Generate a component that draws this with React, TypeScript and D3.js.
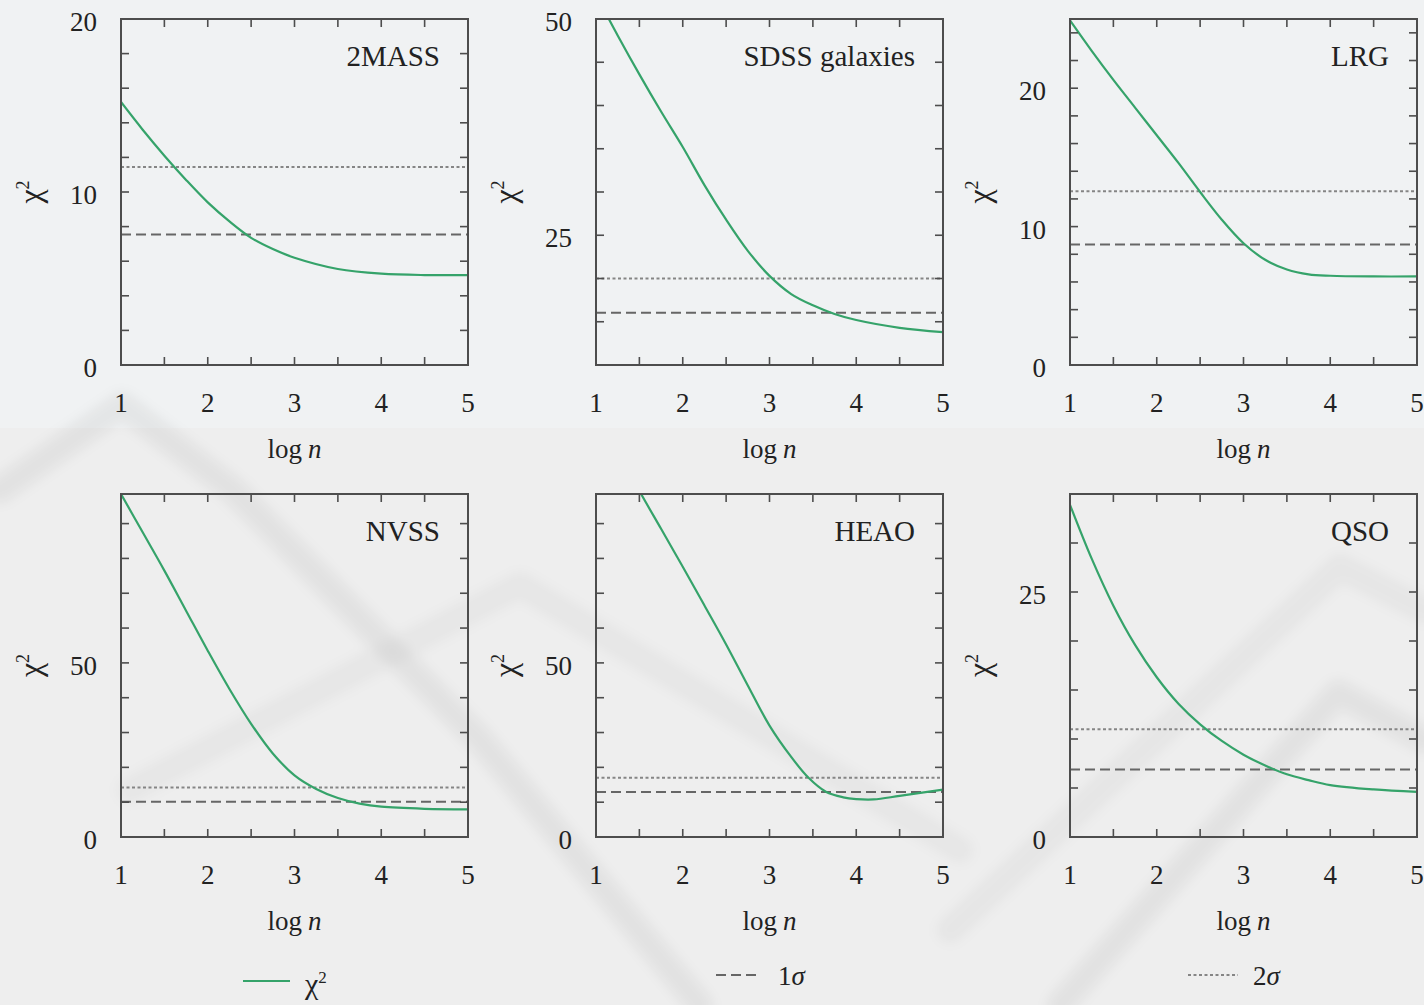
import React from "react";
import * as d3 from "d3";

// Canvas
const W = 1424;
const H = 1005;

// Panel titles (one per survey)
const panelNames = ["2MASS", "SDSS galaxies", "LRG", "NVSS", "HEAO", "QSO"];

// chi^2 as a function of log n for each survey
const chi2MASS: [number, number][] = [
  [1, 15.2], [1.25, 13.6], [1.5, 12.1], [1.75, 10.7], [2, 9.4], [2.25, 8.3],
  [2.5, 7.35], [2.75, 6.7], [3, 6.2], [3.5, 5.55], [4, 5.28], [4.5, 5.2], [5, 5.2],
];
const chiSDSS: [number, number][] = [
  [1, 52.8], [1.25, 48.1], [1.5, 43.6], [1.75, 39.3], [2, 35.2], [2.25, 30.8],
  [2.5, 26.8], [2.75, 23.2], [3, 20.3], [3.25, 18.2], [3.5, 16.9], [3.75, 15.9],
  [4, 15.2], [4.5, 14.3], [5, 13.8],
];
const chiLRG: [number, number][] = [
  [1, 24.9], [1.25, 22.7], [1.5, 20.6], [1.75, 18.6], [2, 16.6], [2.25, 14.6],
  [2.5, 12.5], [2.75, 10.5], [3, 8.8], [3.25, 7.6], [3.5, 6.9], [3.75, 6.55],
  [4, 6.45], [4.5, 6.4], [5, 6.4],
];
const chiNVSS: [number, number][] = [
  [1, 98.5], [1.25, 87.5], [1.5, 76.5], [1.75, 65], [2, 53.5], [2.25, 42.5],
  [2.5, 32.5], [2.75, 24.0], [3, 17.7], [3.25, 13.8], [3.5, 11.2], [3.75, 9.6],
  [4, 8.7], [4.5, 8.1], [5, 7.95],
];
const chiHEAO: [number, number][] = [
  [1.4, 104], [1.52, 98.5], [1.75, 88.5], [2, 77.6], [2.25, 66.5], [2.5, 55.3],
  [2.75, 43.5], [3, 32.0], [3.25, 23.0], [3.45, 17.0], [3.65, 13.0], [3.85, 11.4],
  [4, 10.9], [4.2, 10.8], [4.5, 11.8], [5, 13.6],
];
const chiQSO: [number, number][] = [
  [1, 33.9], [1.25, 28.4], [1.5, 23.6], [1.75, 19.6], [2, 16.3], [2.25, 13.6],
  [2.5, 11.5], [2.75, 9.8], [3, 8.4], [3.25, 7.3], [3.5, 6.4], [3.75, 5.8],
  [4, 5.3], [4.5, 4.85], [5, 4.6],
];
const chiCurves = [chi2MASS, chiSDSS, chiLRG, chiNVSS, chiHEAO, chiQSO];

// 1-sigma and 2-sigma thresholds
const sigma1 = [7.55, 16.05, 8.7, 10.1, 12.9, 6.9];
const sigma2 = [11.45, 20.0, 12.55, 14.2, 17.0, 11.0];

// Axes
const xDomain: [number, number] = [1, 5];
const xTickLabels = [1, 2, 3, 4, 5];
const xMinorStep = 0.5;
const yDomains: [number, number][] = [[0, 20], [10, 50], [0, 25], [0, 98.5], [0, 98.5], [0, 35]];
const yMinorSteps = [2, 5, 2, 10, 10, 5];
const yTickLabels = [[0, 10, 20], [25, 50], [0, 10, 20], [0, 50], [0, 50], [0, 25]];

// Layout
const colLeft = [121, 596, 1070];
const rowTop = [19, 494];
const plotW = 347;
const plotH = [346, 343];

const GREEN = "#35a36a";
const FRAME = "#4d4d4d";
const DASH1 = "#666666";
const DASH2 = "#858585";
const FONT = "'Liberation Serif', 'Times New Roman', serif";

// faint background bands
const bands: { pts: [number, number][]; a: number }[] = [
  { pts: [[0, 490], [122, 405], [233, 490], [480, 740], [700, 1005]], a: 0.05 },
  { pts: [[130, 790], [520, 585], [960, 850]], a: 0.03 },
  { pts: [[950, 930], [1340, 567], [1424, 610]], a: 0.035 },
  { pts: [[1060, 1005], [1338, 693], [1424, 740]], a: 0.05 },
];

function Panel({ i }: { i: number }) {
  const col = i % 3;
  const row = Math.floor(i / 3);
  const left = colLeft[col];
  const top = rowTop[row];
  const h = plotH[row];
  const x = d3.scaleLinear().domain(xDomain).range([left, left + plotW]);
  const y = d3.scaleLinear().domain(yDomains[i]).range([top + h, top]);
  const line = d3
    .line<[number, number]>()
    .x((d) => x(d[0]))
    .y((d) => y(d[1]))
    .curve(d3.curveCatmullRom.alpha(0.5));
  const xMinor = d3.range(xDomain[0], xDomain[1] + 1e-9, xMinorStep);
  const [y0, y1] = yDomains[i];
  const st = yMinorSteps[i];
  const yMinor = d3.range(Math.ceil(y0 / st) * st, y1 + 1e-9, st);
  const tl = 8;
  const clipId = `clip-${i}`;
  const bottom = top + h;
  const right = left + plotW;
  return (
    <g>
      <defs>
        <clipPath id={clipId}>
          <rect x={left} y={top} width={plotW} height={h} />
        </clipPath>
      </defs>
      {/* sigma levels */}
      <line x1={left} x2={right} y1={y(sigma2[i])} y2={y(sigma2[i])}
        stroke={DASH2} strokeWidth={2} strokeDasharray="3,2.5" />
      <line x1={left} x2={right} y1={y(sigma1[i])} y2={y(sigma1[i])}
        stroke={DASH1} strokeWidth={2} strokeDasharray="10,5" />
      {/* chi^2 curve */}
      <path d={line(chiCurves[i]) || ""} fill="none" stroke={GREEN} strokeWidth={2.2}
        clipPath={`url(#${clipId})`} />
      {/* ticks, mirrored inward on all sides */}
      {xMinor.map((v) => (
        <g key={`x${v}`} stroke={FRAME} strokeWidth={1.6}>
          <line x1={x(v)} x2={x(v)} y1={bottom} y2={bottom - tl} />
          <line x1={x(v)} x2={x(v)} y1={top} y2={top + tl} />
        </g>
      ))}
      {yMinor.map((v) => (
        <g key={`y${v}`} stroke={FRAME} strokeWidth={1.6}>
          <line x1={left} x2={left + tl} y1={y(v)} y2={y(v)} />
          <line x1={right} x2={right - tl} y1={y(v)} y2={y(v)} />
        </g>
      ))}
      <rect x={left} y={top} width={plotW} height={h} fill="none" stroke={FRAME} strokeWidth={2} />
      {/* tick labels */}
      {xTickLabels.map((v) => (
        <text key={`xl${v}`} x={x(v)} y={bottom + 47} textAnchor="middle"
          fontSize={27} fill="#222">{v}</text>
      ))}
      {yTickLabels[i].map((v) => (
        <text key={`yl${v}`} x={left - 24} y={y(v) + 12} textAnchor="end"
          fontSize={27} fill="#222">{v}</text>
      ))}
      {/* axis titles */}
      <text x={(left + right) / 2} y={bottom + 93} textAnchor="middle" fontSize={27} fill="#222">
        log<tspan dx={6} fontStyle="italic">n</tspan>
      </text>
      <text transform={`translate(${left - 80},${(top + bottom) / 2}) rotate(-90)`}
        textAnchor="middle" fontSize={32} fill="#222">
        χ<tspan dy={-12} fontSize={18}>2</tspan>
      </text>
      {/* panel title */}
      <text x={right - 28} y={top + 47} textAnchor="end" fontSize={29} fill="#222">
        {panelNames[i]}
      </text>
    </g>
  );
}

export default function App() {
  const bandLine = d3.line<[number, number]>();
  return (
    <svg width={W} height={H} style={{ position: "absolute", left: 0, top: 0 }}
      fontFamily={FONT}>
      <defs>
        <filter id="soft" x="-10%" y="-10%" width="120%" height="120%">
          <feGaussianBlur stdDeviation={6} />
        </filter>
      </defs>
      <rect x={0} y={0} width={W} height={H} fill="#eeeeee" />
      <rect x={0} y={0} width={W} height={428} fill="#f0f2f3" />
      <g filter="url(#soft)" fill="none" strokeLinejoin="round" strokeLinecap="round">
        {bands.map((b, k) => (
          <path key={k} d={bandLine(b.pts) || ""} stroke={`rgba(0,0,0,${b.a})`} strokeWidth={26} />
        ))}
      </g>
      {panelNames.map((_, i) => (
        <Panel key={i} i={i} />
      ))}
      {/* legend */}
      <g>
        <line x1={243} x2={290} y1={981} y2={981} stroke={GREEN} strokeWidth={2.2} />
        <text x={305} y={994} fontSize={30} fill="#222">
          χ<tspan dy={-11} fontSize={17}>2</tspan>
        </text>
        <line x1={716} x2={760} y1={975} y2={975} stroke={DASH1} strokeWidth={2} strokeDasharray="10,5" />
        <text x={778} y={985} fontSize={27} fill="#222">
          1<tspan fontStyle="italic">σ</tspan>
        </text>
        <line x1={1188} x2={1238} y1={975} y2={975} stroke={DASH2} strokeWidth={2} strokeDasharray="3,2.5" />
        <text x={1253} y={985} fontSize={27} fill="#222">
          2<tspan fontStyle="italic">σ</tspan>
        </text>
      </g>
    </svg>
  );
}
